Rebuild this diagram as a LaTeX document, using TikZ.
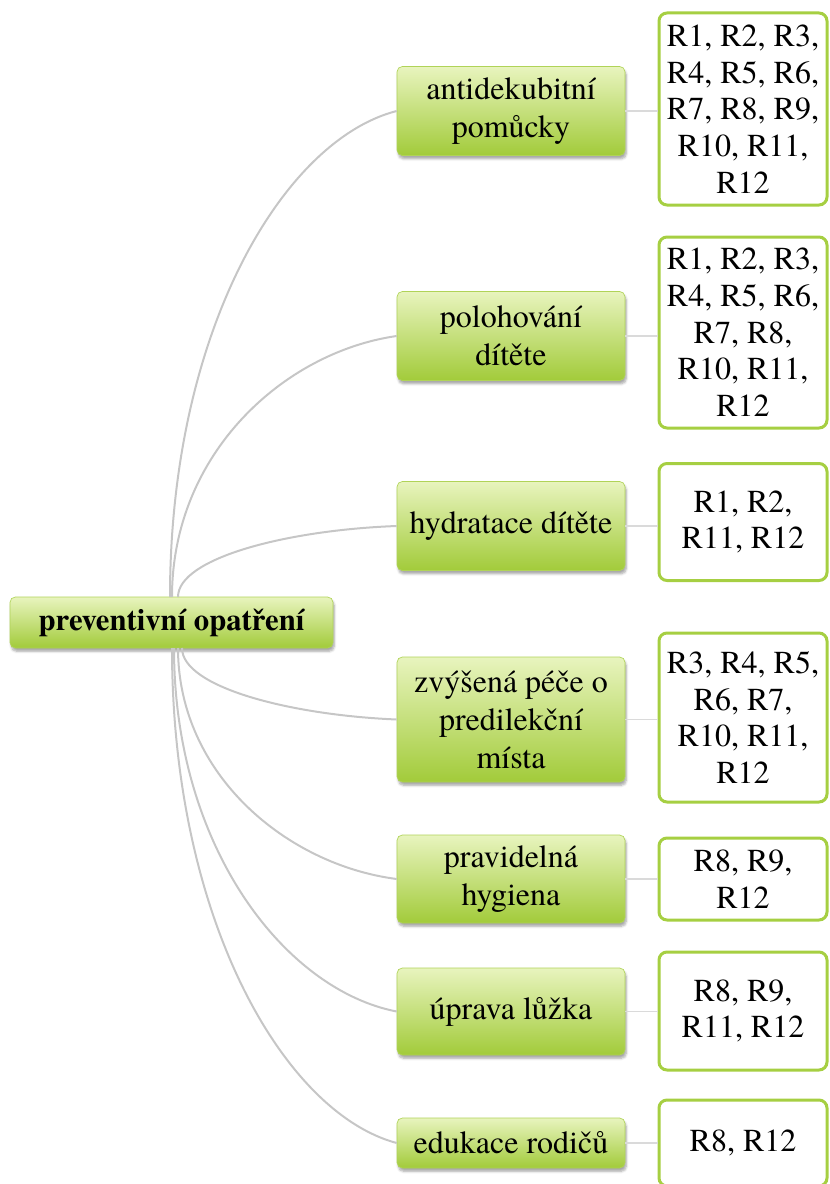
\documentclass[tikz,border=0pt]{standalone}
\usepackage{fontspec}
\setmainfont{texgyretermes}[Extension=.otf, UprightFont=*-regular, BoldFont=*-bold,
  ItalicFont=*-italic, BoldItalicFont=*-bolditalic]
\usetikzlibrary{shadows.blur}

\definecolor{lighttop}{HTML}{E8F4BE}
\definecolor{darkbot}{HTML}{A2CB3A}
\definecolor{rborder}{HTML}{A6CF42}
\definecolor{linkgray}{HTML}{C6C6C6}
\definecolor{stubgray}{HTML}{DADADA}

\tikzset{
  topic/.style={rounded corners=4pt, top color=lighttop, bottom color=darkbot,
    draw=darkbot!85!white, line width=0.5pt,
    blur shadow={shadow xshift=1pt, shadow yshift=-2.5pt, shadow blur steps=5, shadow opacity=35},
    align=center, font=\fontsize{24}{28.5}\selectfont, inner sep=0pt, minimum width=171pt},
  rootbox/.style={topic, minimum width=242.25pt, minimum height=38.25pt,
    font=\fontsize{23}{27}\selectfont\bfseries},
  refbox/.style={rounded corners=6pt, draw=rborder, line width=2.25pt, fill=white,
    align=center, font=\fontsize{24}{27.5}\selectfont, inner sep=0pt, minimum width=126pt},
  link/.style={draw=linkgray, line width=1.5pt},
  stub/.style={draw=stubgray, line width=1pt},
}

\begin{document}
\begin{tikzpicture}[x=0.75pt, y=-0.75pt]
\clip (0,0) rectangle (830,1184);

% central topic
\node[rootbox] (root) at (171.5,622.5) {preventivní opatření};

% measures
\node[topic, minimum height=66.75pt] (c1) at (511,111) {antidekubitní\\pomůcky};
\node[topic, minimum height=66.75pt] (c2) at (511,336) {polohování\\dítěte};
\node[topic, minimum height=66.75pt] (c3) at (511,526) {hydratace dítěte};
\node[topic, minimum height=93.75pt] (c4) at (511,719.5) {zvýšená péče o\\predilekční\\místa};
\node[topic, minimum height=66pt] (c5) at (511,879) {pravidelná\\hygiena};
\node[topic, minimum height=65.25pt] (c6) at (511,1011.5) {úprava lůžka};
\node[topic, minimum height=37.5pt] (c7) at (511,1143) {edukace rodičů};

% respondents
\node[refbox, minimum height=144pt] (r1) at (743,109) {R1, R2, R3,\\R4, R5, R6,\\R7, R8, R9,\\R10, R11,\\R12};
\node[refbox, minimum height=143.25pt] (r2) at (743,332.5) {R1, R2, R3,\\R4, R5, R6,\\R7, R8,\\R10, R11,\\R12};
\node[refbox, minimum height=87.75pt] (r3) at (743,522) {R1, R2,\\R11, R12};
\node[refbox, minimum height=126.75pt] (r4) at (743,717.5) {R3, R4, R5,\\R6, R7,\\R10, R11,\\R12};
\node[refbox, minimum height=61.5pt] (r5) at (743,879) {R8, R9,\\R12};
\node[refbox, minimum height=88.5pt] (r6) at (743,1011) {R8, R9,\\R11, R12};
\node[refbox, minimum height=64.5pt] (r7) at (743,1143) {R8, R12};

% branch origins on the central topic
\coordinate (u1) at (170,597);
\coordinate (u2) at (172,597);
\coordinate (u3) at (178,597);
\coordinate (d4) at (182,648);
\coordinate (d5) at (178,648);
\coordinate (d6) at (174,648);
\coordinate (d7) at (172,648);

% curved branches
\draw[link] (u1) .. controls (170,330) and (283.5,140) .. (c1.west);
\draw[link] (u2) .. controls (172,453) and (284.5,352) .. (c2.west);
\draw[link] (u3) .. controls (178,558) and (287.5,530) .. (c3.west);
\draw[link] (d4) .. controls (182,687) and (289.5,715) .. (c4.west);
\draw[link] (d5) .. controls (178,775) and (287.5,865) .. (c5.west);
\draw[link] (d6) .. controls (174,848) and (285.5,990) .. (c6.west);
\draw[link] (d7) .. controls (172,920) and (284.5,1113) .. (c7.west);

% short links to the respondent boxes
\foreach \i in {1,...,7}
  \draw[stub] (c\i.east) -- (c\i.east -| r\i.west);
\end{tikzpicture}
\end{document}
